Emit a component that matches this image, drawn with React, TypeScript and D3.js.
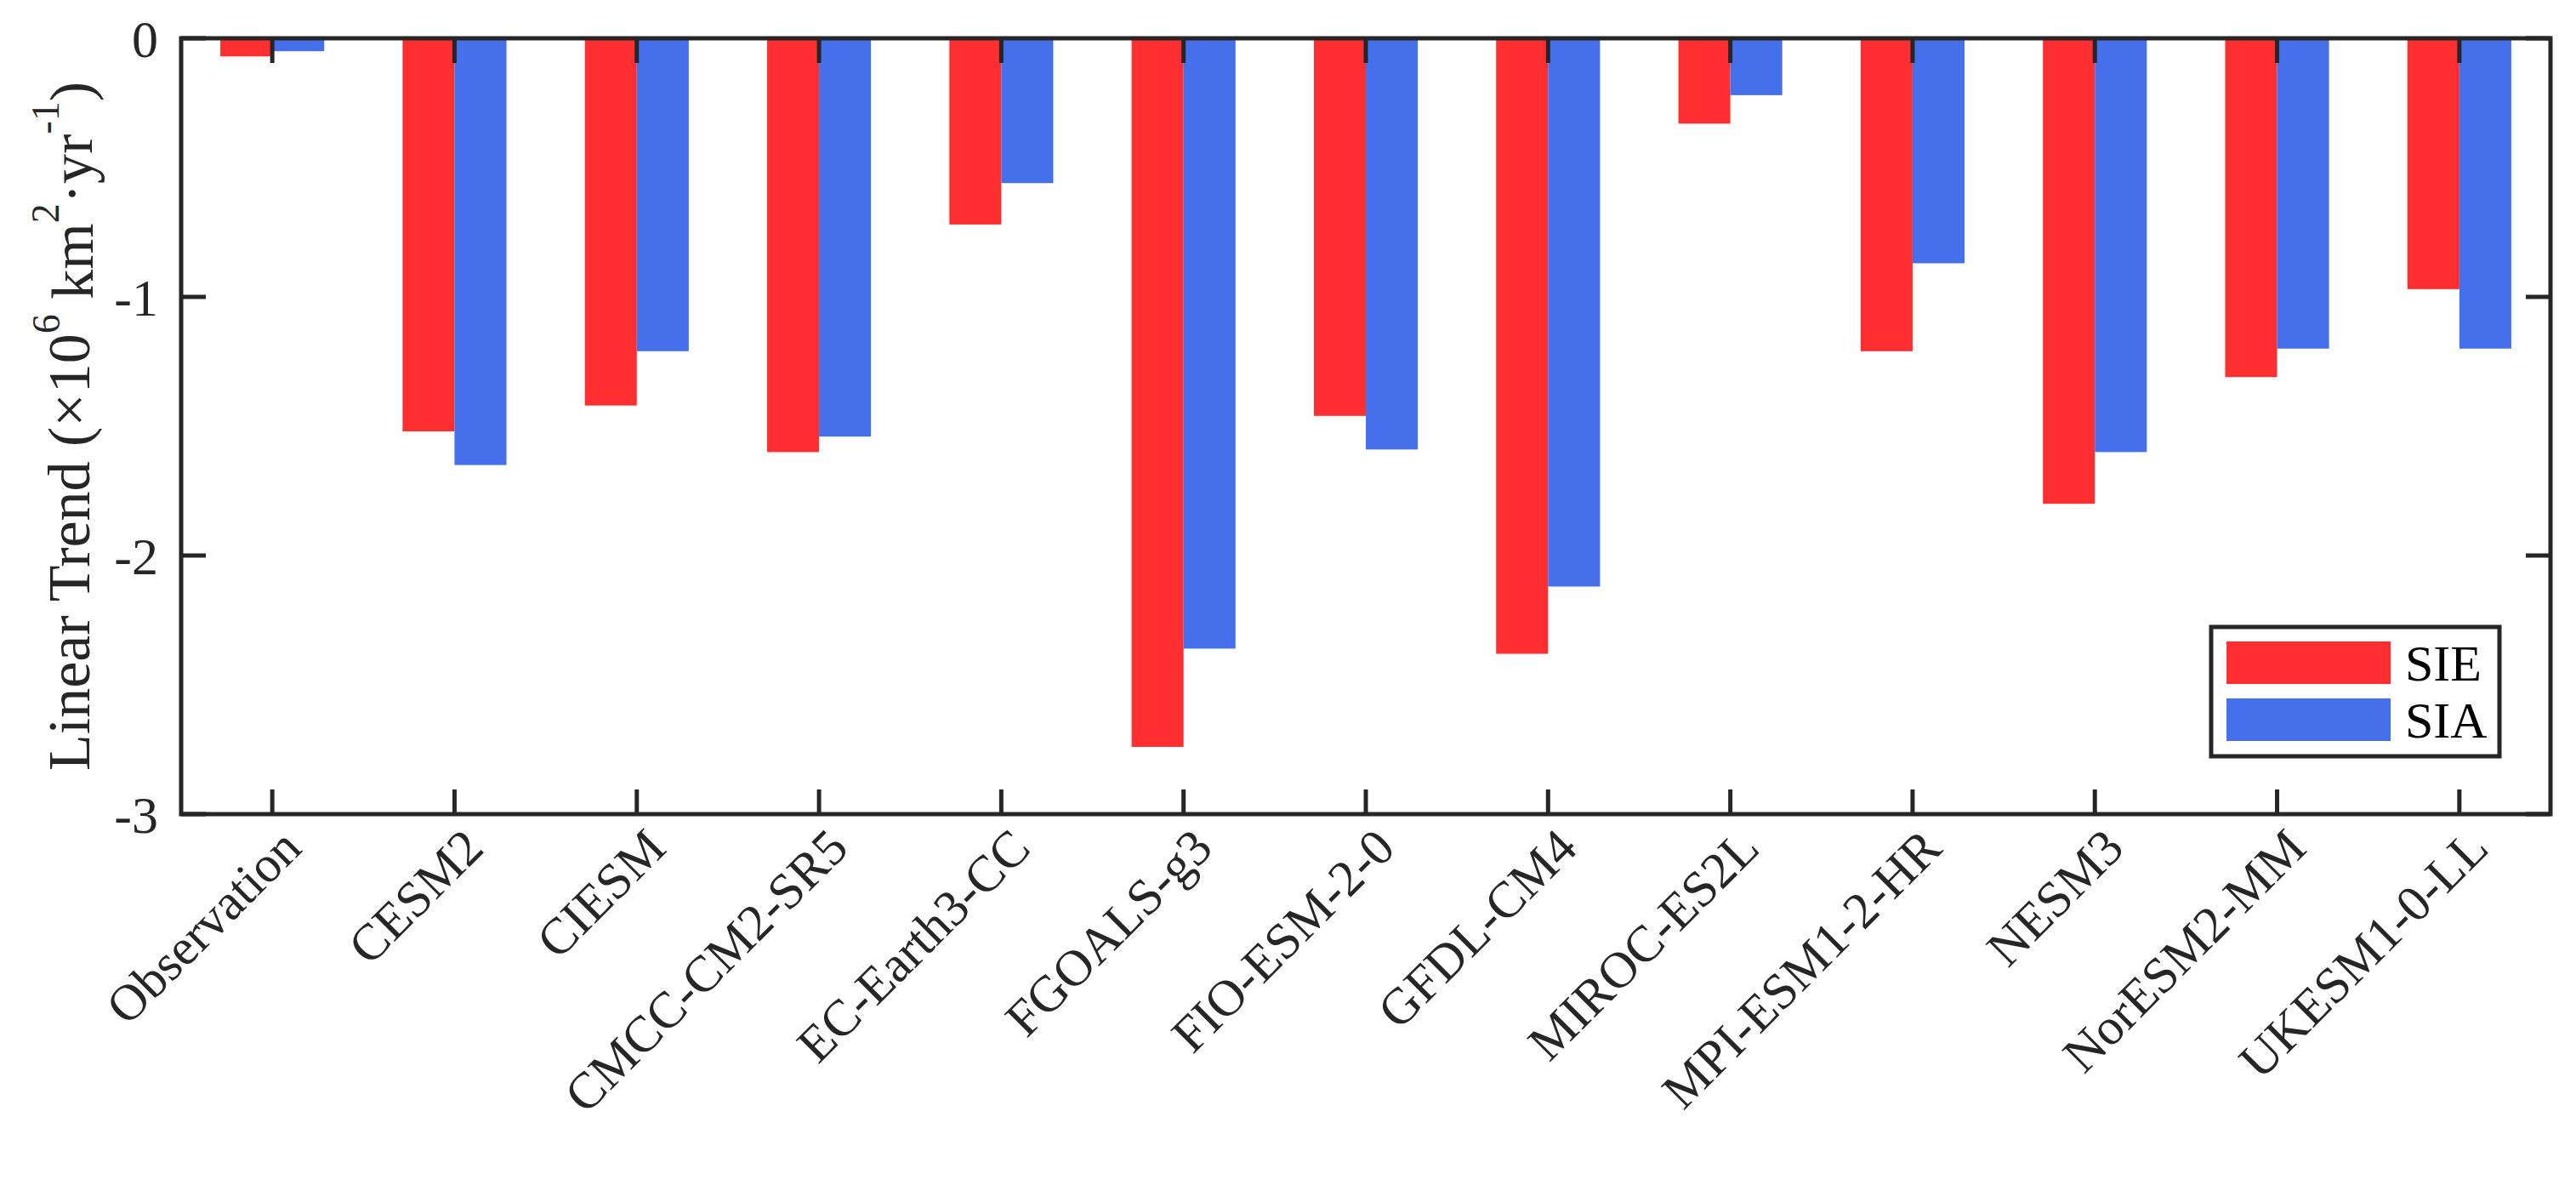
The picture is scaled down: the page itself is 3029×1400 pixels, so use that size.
import React, { useEffect, useRef } from 'react';
import * as d3 from 'd3';

// categories and the two series (10^6 km^2 / yr)
const models = [
	'Observation',
	'CESM2',
	'CIESM',
	'CMCC-CM2-SR5',
	'EC-Earth3-CC',
	'FGOALS-g3',
	'FIO-ESM-2-0',
	'GFDL-CM4',
	'MIROC-ES2L',
	'MPI-ESM1-2-HR',
	'NESM3',
	'NorESM2-MM',
	'UKESM1-0-LL',
];
const sie = [-0.07, -1.52, -1.42, -1.6, -0.72, -2.74, -1.46, -2.38, -0.33, -1.21, -1.8, -1.31, -0.97];
const sia = [-0.05, -1.65, -1.21, -1.54, -0.56, -2.36, -1.59, -2.12, -0.22, -0.87, -1.6, -1.2, -1.2];
const seriesNames = ['SIE', 'SIA'];
const yTicks = [0, -1, -2, -3];

const W = 3029;
const H = 1400;
const margin = { top: 45, right: 30, bottom: 443, left: 213 };
const red = '#FF2E30';
const blue = '#4470EB';
const axisColor = '#262626';
const font = '"Liberation Serif", "Times New Roman", serif';

const App: React.FC = () => {
	const ref = useRef<SVGSVGElement>(null);

	useEffect(() => {
		const svg = d3.select(ref.current);
		svg.selectAll('*').remove();

		const innerW = W - margin.left - margin.right;
		const innerH = H - margin.top - margin.bottom;
		const g = svg.append('g').attr('transform', `translate(${margin.left},${margin.top})`);

		const x = d3.scaleBand<string>().domain(models).range([0, innerW]).padding(0);
		const groupW = x.bandwidth() * 0.57;
		const xs = d3.scaleBand<string>().domain(seriesNames).range([-groupW / 2, groupW / 2]);
		const y = d3.scaleLinear().domain([-3, 0]).range([innerH, 0]);
		const colors = [red, blue];
		const values = [sie, sia];

		// bars
		seriesNames.forEach((s, si) => {
			g.append('g')
				.selectAll('rect')
				.data(models)
				.join('rect')
				.attr('x', (d) => (x(d) as number) + x.bandwidth() / 2 + (xs(s) as number))
				.attr('width', xs.bandwidth())
				.attr('y', y(0))
				.attr('height', (d, i) => y(values[si][i]) - y(0))
				.attr('fill', colors[si]);
		});

		const tickLen = 29;
		const axes = g.append('g').attr('stroke', axisColor).attr('stroke-width', 5).attr('fill', 'none');

		// inward ticks, top and bottom
		models.forEach((m) => {
			const cx = (x(m) as number) + x.bandwidth() / 2;
			axes.append('line').attr('x1', cx).attr('x2', cx).attr('y1', innerH).attr('y2', innerH - tickLen);
			axes.append('line').attr('x1', cx).attr('x2', cx).attr('y1', 0).attr('y2', tickLen);
		});
		yTicks.forEach((t) => {
			axes.append('line').attr('x1', 0).attr('x2', tickLen).attr('y1', y(t)).attr('y2', y(t));
			axes.append('line').attr('x1', innerW).attr('x2', innerW - tickLen).attr('y1', y(t)).attr('y2', y(t));
		});
		axes.append('rect').attr('x', 0).attr('y', 0).attr('width', innerW).attr('height', innerH);

		// y tick labels
		g.append('g')
			.selectAll('text')
			.data(yTicks)
			.join('text')
			.attr('x', -27)
			.attr('y', (d) => y(d))
			.attr('dy', '0.35em')
			.attr('text-anchor', 'end')
			.attr('font-family', font)
			.attr('font-size', 62)
			.attr('fill', axisColor)
			.text((d) => (d === 0 ? '0' : '-' + Math.abs(d)));

		// rotated category labels
		g.append('g')
			.selectAll('text')
			.data(models)
			.join('text')
			.attr('transform', (d) => `translate(${(x(d) as number) + x.bandwidth() / 2 + 22},${innerH + 28}) rotate(-45)`)
			.attr('text-anchor', 'end')
			.attr('dy', '0.35em')
			.attr('font-family', font)
			.attr('font-size', 60)
			.attr('fill', axisColor)
			.text((d) => d);

		// y label
		const yl = svg
			.append('text')
			.attr('transform', `translate(80,${margin.top + innerH / 2}) rotate(-90)`)
			.attr('text-anchor', 'middle')
			.attr('dy', '0.35em')
			.attr('font-family', font)
			.attr('font-size', 70)
			.attr('fill', axisColor);
		yl.append('tspan').text('Linear Trend (×10');
		yl.append('tspan').attr('font-size', 46).attr('dy', '-0.75em').text('6');
		yl.append('tspan').attr('dy', '0.55em').text(' km');
		yl.append('tspan').attr('font-size', 46).attr('dy', '-0.85em').text('2');
		yl.append('tspan').attr('dy', '0.55em').text('·yr');
		yl.append('tspan').attr('font-size', 46).attr('dy', '-0.85em').text('-1');
		yl.append('tspan').attr('dy', '0.55em').text(')');

		// legend
		const lg = svg.append('g').attr('transform', 'translate(2600,737)');
		lg.append('rect')
			.attr('width', 339)
			.attr('height', 152)
			.attr('fill', 'white')
			.attr('stroke', axisColor)
			.attr('stroke-width', 5);
		seriesNames.forEach((s, i) => {
			lg.append('rect')
				.attr('x', 18)
				.attr('y', 17 + i * 67)
				.attr('width', 193)
				.attr('height', 50)
				.attr('fill', colors[i]);
			lg.append('text')
				.attr('x', 228)
				.attr('y', 42 + i * 67)
				.attr('dy', '0.35em')
				.attr('font-family', font)
				.attr('font-size', 60)
				.attr('fill', '#000')
				.text(s);
		});
	}, []);

	return (
		<div style={{ position: 'absolute', left: 0, top: 0 }}>
			<svg ref={ref} width={W} height={H} style={{ display: 'block', background: 'white' }} />
		</div>
	);
};

export default App;
